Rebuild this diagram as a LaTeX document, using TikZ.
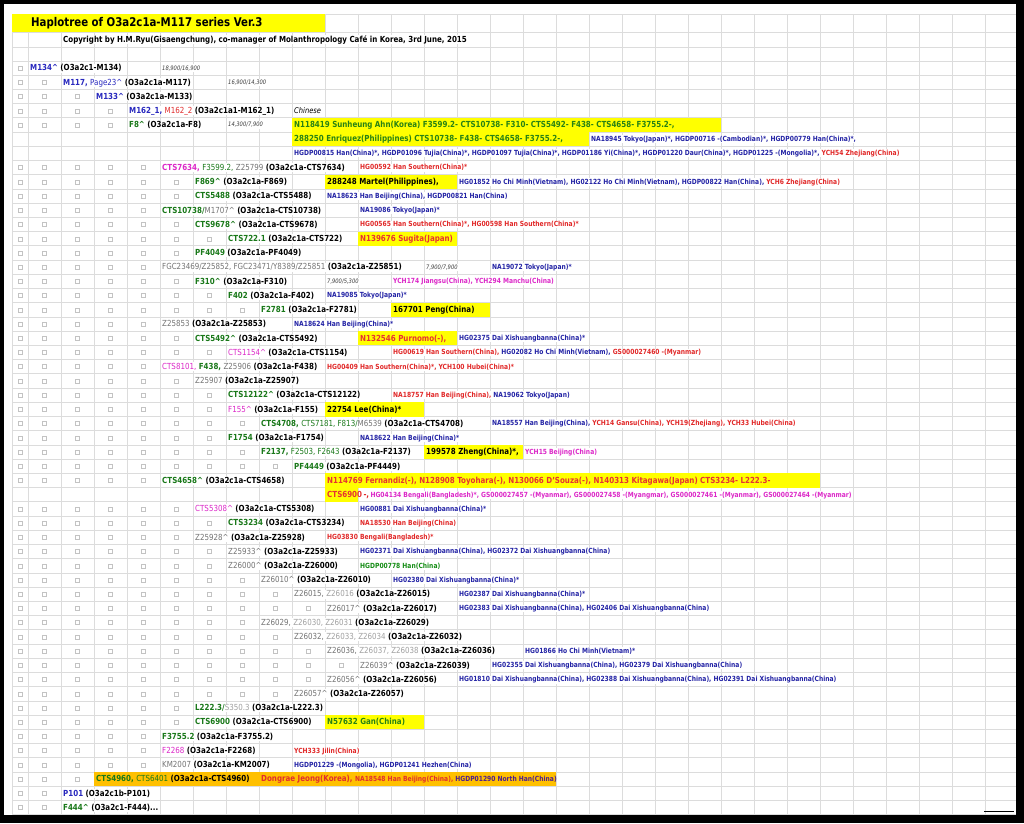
\documentclass[tikz,border=0pt]{standalone}
\usepackage{fontspec}
\setmainfont{DejaVu Sans}[FakeStretch=0.85]
\usepackage{tikz}
\usepackage{xcolor}
\usetikzlibrary{positioning}

\definecolor{gridgray}{RGB}{220,220,220}
\definecolor{boxgray}{RGB}{195,195,195}
\definecolor{cellyellow}{RGB}{255,255,0}
\definecolor{cellorange}{RGB}{255,192,0}
\definecolor{mkblue}{RGB}{40,40,190}
\definecolor{mkgreen}{RGB}{25,120,25}
\definecolor{mkmag}{RGB}{220,40,200}
\definecolor{mkgray}{RGB}{115,115,115}
\definecolor{mklgray}{RGB}{160,160,160}
\definecolor{mkred}{RGB}{225,45,45}
\definecolor{smpblue}{RGB}{35,35,165}
\definecolor{smpred}{RGB}{225,40,40}
\definecolor{smpmag}{RGB}{220,40,200}
\definecolor{smpgreen}{RGB}{20,140,20}
\definecolor{smppurple}{RGB}{80,30,140}
\definecolor{hlgreen}{RGB}{40,130,20}
\definecolor{hlred}{RGB}{230,50,50}
\definecolor{numgray}{RGB}{60,60,60}

\newcommand\lblfont{\fontsize{8.35}{9.5}\selectfont\bfseries}
\newcommand\smpfont{\fontsize{7.05}{8.5}\selectfont\bfseries}
\newcommand\numfont{\fontsize{6.1}{7}\selectfont\itshape}
\newcommand\ttlfont{\fontsize{12}{14}\selectfont\bfseries}
\newcommand\crt{\textasciicircum}
\newcommand\mkB[1]{\textcolor{mkblue}{#1}}
\newcommand\mkBr[1]{{\mdseries\textcolor{mkblue}{#1}}}
\newcommand\mkG[1]{\textcolor{mkgreen}{#1}}
\newcommand\mkGr[1]{{\mdseries\textcolor{mkgreen}{#1}}}
\newcommand\mkM[1]{\textcolor{mkmag}{#1}}
\newcommand\mkMr[1]{{\mdseries\textcolor{mkmag}{#1}}}
\newcommand\mkRr[1]{{\mdseries\textcolor{mkred}{#1}}}
\newcommand\mkY[1]{{\mdseries\textcolor{mkgray}{#1}}}
\newcommand\mkYl[1]{{\mdseries\textcolor{mklgray}{#1}}}

\tikzset{
  gridline/.style={draw=gridgray, line width=0.8pt},
  chk/.style={draw=boxgray, line width=0.5pt, minimum size=4pt, inner sep=0pt},
  lbl/.style={anchor=west, fill=white, inner xsep=1pt, inner ysep=1.1pt, font=\lblfont, text height=6.1pt, text depth=0.6pt},
  hl/.style={lbl, fill=none},
  smp/.style={anchor=west, fill=white, inner xsep=1pt, inner ysep=1.1pt, font=\smpfont, text height=5.2pt, text depth=0.5pt},
  num/.style={anchor=west, fill=white, inner xsep=1pt, inner ysep=1pt, font=\numfont, text=numgray},
}

\begin{document}
\begin{tikzpicture}[x=1pt, y=-1pt]
\useasboundingbox (0,0) rectangle (1024,823);
% frame and sheet
\fill[black] (0,0) rectangle (1024,823);
\fill[white] (4,4) rectangle (1016,815);

% grid
\foreach \yy in {14,32,47}
  \draw[gridline] (12,\yy) -- (1016,\yy);
\foreach \rw in {0,...,53}
  \draw[gridline] (12,{61+14.22*\rw}) -- (1016,{61+14.22*\rw});
\draw[gridline] (12,14) -- (12,815);
\foreach \c in {0,...,29}
  \draw[gridline] ({28+33*\c},14) -- ({28+33*\c},815);

% cell fills
\fill[cellyellow] (12,14) rectangle (325,32);
\foreach \xa/\xb/\rw in {292/721/4, 292/589/5, 325/457/8, 358/457/12, 391/490/17, 358/457/19, 325/424/24, 424/523/27, 325/820/29, 325/358/30, 325/424/46}
  \fill[cellyellow] (\xa,{61+14.22*\rw}) rectangle (\xb,{75.22+14.22*\rw});
\fill[cellorange] (94,772) rectangle (556,786.2);

% check boxes
\foreach \rw/\dep in {0/1,1/2,2/3,3/4,4/4,7/5,8/6,9/6,10/5,11/6,12/7,13/6,14/5,15/6,16/7,17/8,18/5,19/6,20/7,21/5,22/6,23/7,24/7,25/8,26/7,27/8,28/9,29/5,31/6,32/7,33/6,34/7,35/7,36/8,37/9,38/10,39/8,40/9,41/10,42/11,43/10,44/9,45/6,46/6,47/5,48/5,49/5,50/3,51/2,52/2} {
  \foreach \c in {1,...,\dep} {
    \pgfmathsetmacro\bx{\c==1 ? 20 : 33*\c-21.5}
    \node[chk] (b-\rw-\c) at (\bx,{68.11+14.22*\rw}) {};
  }
}

% heading
\node[anchor=west, font=\ttlfont, inner sep=1pt] (title) at (30,23) {Haplotree of O3a2c1a-M117 series Ver.3};
\node[lbl] (copy) at (62,39.5) {Copyright by H.M.Ryu(Gisaengchung), co-manager of Molanthropology Café in Korea, 3rd June, 2015};

% haplogroup rows
\node[lbl] (n0) at (29,68.1) {\mkB{M134\crt} (O3a2c1-M134)};
\node[num] (i0) at (161,68.1) {18,900/16,900};
\node[lbl] (n1) at (62,82.3) {\mkB{M117,} \mkBr{Page23\crt} (O3a2c1a-M117)};
\node[num] (i1) at (227,82.3) {16,900/14,300};
\node[lbl] (n2) at (95,96.6) {\mkB{M133\crt} (O3a2c1a-M133)};
\node[lbl] (n3) at (128,110.8) {\mkB{M162\_1,} \mkRr{M162\_2} (O3a2c1a1-M162\_1)};
\node[anchor=west, fill=white, inner sep=1pt, font=\fontsize{7.9}{9}\selectfont\itshape] (i3) at (293,110.8) {Chinese};
\node[lbl] (n4) at (128,125.0) {\mkG{F8\crt} (O3a2c1a-F8)};
\node[num] (i4) at (227,125.0) {14,300/7,900};
\node[hl, text=hlgreen] (y4) at (293,125.0) {N118419 Sunheung Ahn(Korea) F3599.2- CTS10738- F310- CTS5492- F438- CTS4658- F3755.2-,};
\node[hl, text=hlgreen] (y5) at (293,139.2) {288250 Enriquez(Philippines) CTS10738- F438- CTS4658- F3755.2-,};
\node[smp, text=smpblue] (s5) at (590,139.2) {NA18945 Tokyo(Japan)*, HGDP00716 -(Cambodian)*, HGDP00779 Han(China)*,};
\node[smp, text=smpblue] (s6) at (293,153.4) {HGDP00815 Han(China)*, HGDP01096 Tujia(China)*, HGDP01097 Tujia(China)*, HGDP01186 Yi(China)*, HGDP01220 Daur(China)*, HGDP01225 -(Mongolia)*, \textcolor{smpred}{YCH54 Zhejiang(China)}};
\node[lbl] (n7) at (161,167.6) {\mkM{CTS7634,} \mkGr{F3599.2,} \mkY{Z25799} (O3a2c1a-CTS7634)};
\node[smp, text=smpred] (s7) at (359,167.6) {HG00592 Han Southern(China)*};
\node[lbl] (n8) at (194,181.9) {\mkG{F869\crt} (O3a2c1a-F869)};
\node[hl] (y8) at (326,181.9) {288248 Martel(Philippines),};
\node[smp, text=smpblue] (s8) at (458,181.9) {HG01852 Ho Chi Minh(Vietnam), HG02122 Ho Chi Minh(Vietnam), HGDP00822 Han(China), \textcolor{smpred}{YCH6 Zhejiang(China)}};
\node[lbl] (n9) at (194,196.1) {\mkG{CTS5488} (O3a2c1a-CTS5488)};
\node[smp, text=smpblue] (s9) at (326,196.1) {NA18623 Han Beijing(China), HGDP00821 Han(China)};
\node[lbl] (n10) at (161,210.3) {\mkG{CTS10738/}\mkY{M1707\crt} (O3a2c1a-CTS10738)};
\node[smp, text=smpblue] (s10) at (359,210.3) {NA19086 Tokyo(Japan)*};
\node[lbl] (n11) at (194,224.5) {\mkG{CTS9678\crt} (O3a2c1a-CTS9678)};
\node[smp, text=smpred] (s11) at (359,224.5) {HG00565 Han Southern(China)*, HG00598 Han Southern(China)*};
\node[lbl] (n12) at (227,238.7) {\mkG{CTS722.1} (O3a2c1a-CTS722)};
\node[hl, text=hlred] (y12) at (359,238.7) {N139676 Sugita(Japan)};
\node[lbl] (n13) at (194,253.0) {\mkG{PF4049} (O3a2c1a-PF4049)};
\node[lbl] (n14) at (161,267.2) {\mkY{FGC23469/Z25852, FGC23471/Y8389/Z25851} (O3a2c1a-Z25851)};
\node[num] (i14) at (425,267.2) {7,900/7,900};
\node[smp, text=smpblue] (s14) at (491,267.2) {NA19072 Tokyo(Japan)*};
\node[lbl] (n15) at (194,281.4) {\mkG{F310\crt} (O3a2c1a-F310)};
\node[num] (i15) at (326,281.4) {7,900/5,300};
\node[smp, text=smpmag] (s15) at (392,281.4) {YCH174 Jiangsu(China), YCH294 Manchu(China)};
\node[lbl] (n16) at (227,295.6) {\mkG{F402} (O3a2c1a-F402)};
\node[smp, text=smpblue] (s16) at (326,295.6) {NA19085 Tokyo(Japan)*};
\node[lbl] (n17) at (260,309.8) {\mkG{F2781} (O3a2c1a-F2781)};
\node[hl] (y17) at (392,309.8) {167701 Peng(China)};
\node[lbl] (n18) at (161,324.1) {\mkY{Z25853} (O3a2c1a-Z25853)};
\node[smp, text=smpblue] (s18) at (293,324.1) {NA18624 Han Beijing(China)*};
\node[lbl] (n19) at (194,338.3) {\mkG{CTS5492\crt} (O3a2c1a-CTS5492)};
\node[hl, text=hlred] (y19) at (359,338.3) {N132546 Purnomo(-),};
\node[smp, text=smpblue] (s19) at (458,338.3) {HG02375 Dai Xishuangbanna(China)*};
\node[lbl] (n20) at (227,352.5) {\mkMr{CTS1154\crt} (O3a2c1a-CTS1154)};
\node[smp, text=smpred] (s20) at (392,352.5) {HG00619 Han Southern(China), \textcolor{smpblue}{HG02082 Ho Chi Minh(Vietnam),} GS000027460 -(Myanmar)};
\node[lbl] (n21) at (161,366.7) {\mkMr{CTS8101,} \mkG{F438,} \mkY{Z25906} (O3a2c1a-F438)};
\node[smp, text=smpred] (s21) at (326,366.7) {HG00409 Han Southern(China)*, YCH100 Hubei(China)*};
\node[lbl] (n22) at (194,380.9) {\mkY{Z25907} (O3a2c1a-Z25907)};
\node[lbl] (n23) at (227,395.2) {\mkG{CTS12122\crt} (O3a2c1a-CTS12122)};
\node[smp, text=smpred] (s23) at (392,395.2) {NA18757 Han Beijing(China), \textcolor{smpblue}{NA19062 Tokyo(Japan)}};
\node[lbl] (n24) at (227,409.4) {\mkMr{F155\crt} (O3a2c1a-F155)};
\node[hl] (y24) at (326,409.4) {22754 Lee(China)*};
\node[lbl] (n25) at (260,423.6) {\mkG{CTS4708,} \mkGr{CTS7181, F813/}\mkY{M6539} (O3a2c1a-CTS4708)};
\node[smp, text=smpblue] (s25) at (491,423.6) {NA18557 Han Beijing(China), \textcolor{smpred}{YCH14 Gansu(China), YCH19(Zhejiang), YCH33 Hubei(China)}};
\node[lbl] (n26) at (227,437.8) {\mkG{F1754} (O3a2c1a-F1754)};
\node[smp, text=smpblue] (s26) at (359,437.8) {NA18622 Han Beijing(China)*};
\node[lbl] (n27) at (260,452.0) {\mkG{F2137,} \mkGr{F2503, F2643} (O3a2c1a-F2137)};
\node[hl] (y27) at (425,452.0) {199578 Zheng(China)*,};
\node[smp, text=smpmag] (s27) at (524,452.0) {YCH15 Beijing(China)};
\node[lbl] (n28) at (293,466.3) {\mkG{PF4449} (O3a2c1a-PF4449)};
\node[lbl] (n29) at (161,480.5) {\mkG{CTS4658\crt} (O3a2c1a-CTS4658)};
\node[hl, text=hlred] (y29) at (326,480.5) {N114769 Fernandiz(-), N128908 Toyohara(-), N130066 D'Souza(-), N140313 Kitagawa(Japan) CTS3234- L222.3-};
\node[hl, text=hlred] (y30) at (326,494.7) {CTS6900};
\node[lbl, text=smpred, inner xsep=0pt, right=0pt of y30] (d30) {-,};
\node[smp, text=smpmag, right=0pt of d30] (s30) {HG04134 Bengali(Bangladesh)*, GS000027457 -(Myanmar), GS000027458 -(Myangmar), GS000027461 -(Myanmar), GS000027464 -(Myanmar)};
\node[lbl] (n31) at (194,508.9) {\mkMr{CTS5308\crt} (O3a2c1a-CTS5308)};
\node[smp, text=smpblue] (s31) at (359,508.9) {HG00881 Dai Xishuangbanna(China)*};
\node[lbl] (n32) at (227,523.1) {\mkG{CTS3234} (O3a2c1a-CTS3234)};
\node[smp, text=smpred] (s32) at (359,523.1) {NA18530 Han Beijing(China)};
\node[lbl] (n33) at (194,537.4) {\mkY{Z25928\crt} (O3a2c1a-Z25928)};
\node[smp, text=smpred] (s33) at (326,537.4) {HG03830 Bengali(Bangladesh)*};
\node[lbl] (n34) at (227,551.6) {\mkY{Z25933\crt} (O3a2c1a-Z25933)};
\node[smp, text=smpblue] (s34) at (359,551.6) {HG02371 Dai Xishuangbanna(China), HG02372 Dai Xishuangbanna(China)};
\node[lbl] (n35) at (227,565.8) {\mkY{Z26000\crt} (O3a2c1a-Z26000)};
\node[smp, text=smpgreen] (s35) at (359,565.8) {HGDP00778 Han(China)};
\node[lbl] (n36) at (260,580.0) {\mkY{Z26010\crt} (O3a2c1a-Z26010)};
\node[smp, text=smpblue] (s36) at (392,580.0) {HG02380 Dai Xishuangbanna(China)*};
\node[lbl] (n37) at (293,594.2) {\mkY{Z26015,} \mkYl{Z26016} (O3a2c1a-Z26015)};
\node[smp, text=smpblue] (s37) at (458,594.2) {HG02387 Dai Xishuangbanna(China)*};
\node[lbl] (n38) at (326,608.5) {\mkY{Z26017\crt} (O3a2c1a-Z26017)};
\node[smp, text=smpblue] (s38) at (458,608.5) {HG02383 Dai Xishuangbanna(China), HG02406 Dai Xishuangbanna(China)};
\node[lbl] (n39) at (260,622.7) {\mkY{Z26029,} \mkYl{Z26030, Z26031} (O3a2c1a-Z26029)};
\node[lbl] (n40) at (293,636.9) {\mkY{Z26032,} \mkYl{Z26033, Z26034} (O3a2c1a-Z26032)};
\node[lbl] (n41) at (326,651.1) {\mkY{Z26036,} \mkYl{Z26037, Z26038} (O3a2c1a-Z26036)};
\node[smp, text=smpblue] (s41) at (524,651.1) {HG01866 Ho Chi Minh(Vietnam)*};
\node[lbl] (n42) at (359,665.3) {\mkY{Z26039\crt} (O3a2c1a-Z26039)};
\node[smp, text=smpblue] (s42) at (491,665.3) {HG02355 Dai Xishuangbanna(China), HG02379 Dai Xishuangbanna(China)};
\node[lbl] (n43) at (326,679.6) {\mkY{Z26056\crt} (O3a2c1a-Z26056)};
\node[smp, text=smpblue] (s43) at (458,679.6) {HG01810 Dai Xishuangbanna(China), HG02388 Dai Xishuangbanna(China), HG02391 Dai Xishuangbanna(China)};
\node[lbl] (n44) at (293,693.8) {\mkY{Z26057\crt} (O3a2c1a-Z26057)};
\node[lbl] (n45) at (194,708.0) {\mkG{L222.3/}\mkYl{S350.3} (O3a2c1a-L222.3)};
\node[lbl] (n46) at (194,722.2) {\mkG{CTS6900} (O3a2c1a-CTS6900)};
\node[hl, text=hlgreen] (y46) at (326,722.2) {N57632 Gan(China)};
\node[lbl] (n47) at (161,736.4) {\mkG{F3755.2} (O3a2c1a-F3755.2)};
\node[lbl] (n48) at (161,750.7) {\mkMr{F2268} (O3a2c1a-F2268)};
\node[smp, text=smpred] (s48) at (293,750.7) {YCH333 Jilin(China)};
\node[lbl] (n49) at (161,764.9) {\mkY{KM2007} (O3a2c1a-KM2007)};
\node[smp, text=smpblue] (s49) at (293,764.9) {HGDP01229 -(Mongolia), HGDP01241 Hezhen(China)};
\node[hl] (n50) at (95,779.1) {\mkG{CTS4960,} \mkGr{CTS6401} (O3a2c1a-CTS4960)};
\node[hl, text=mkred] (y50) at (260,779.1) {Dongrae Jeong(Korea), {\smpfont NA18548 Han Beijing(China), \textcolor{smppurple}{HGDP01290 North Han(China)}}};
\node[lbl] (n51) at (62,793.3) {\mkB{P101} (O3a2c1b-P101)};
\node[lbl] (n52) at (62,807.5) {\mkG{F444\crt} (O3a2c1-F444)...};

% mark at the lower right
\coordinate (barL) at (984,811.5);
\coordinate (barR) at (1014,811.5);
\draw[line width=1.5pt] (barL) -- (barR);
\end{tikzpicture}
\end{document}
